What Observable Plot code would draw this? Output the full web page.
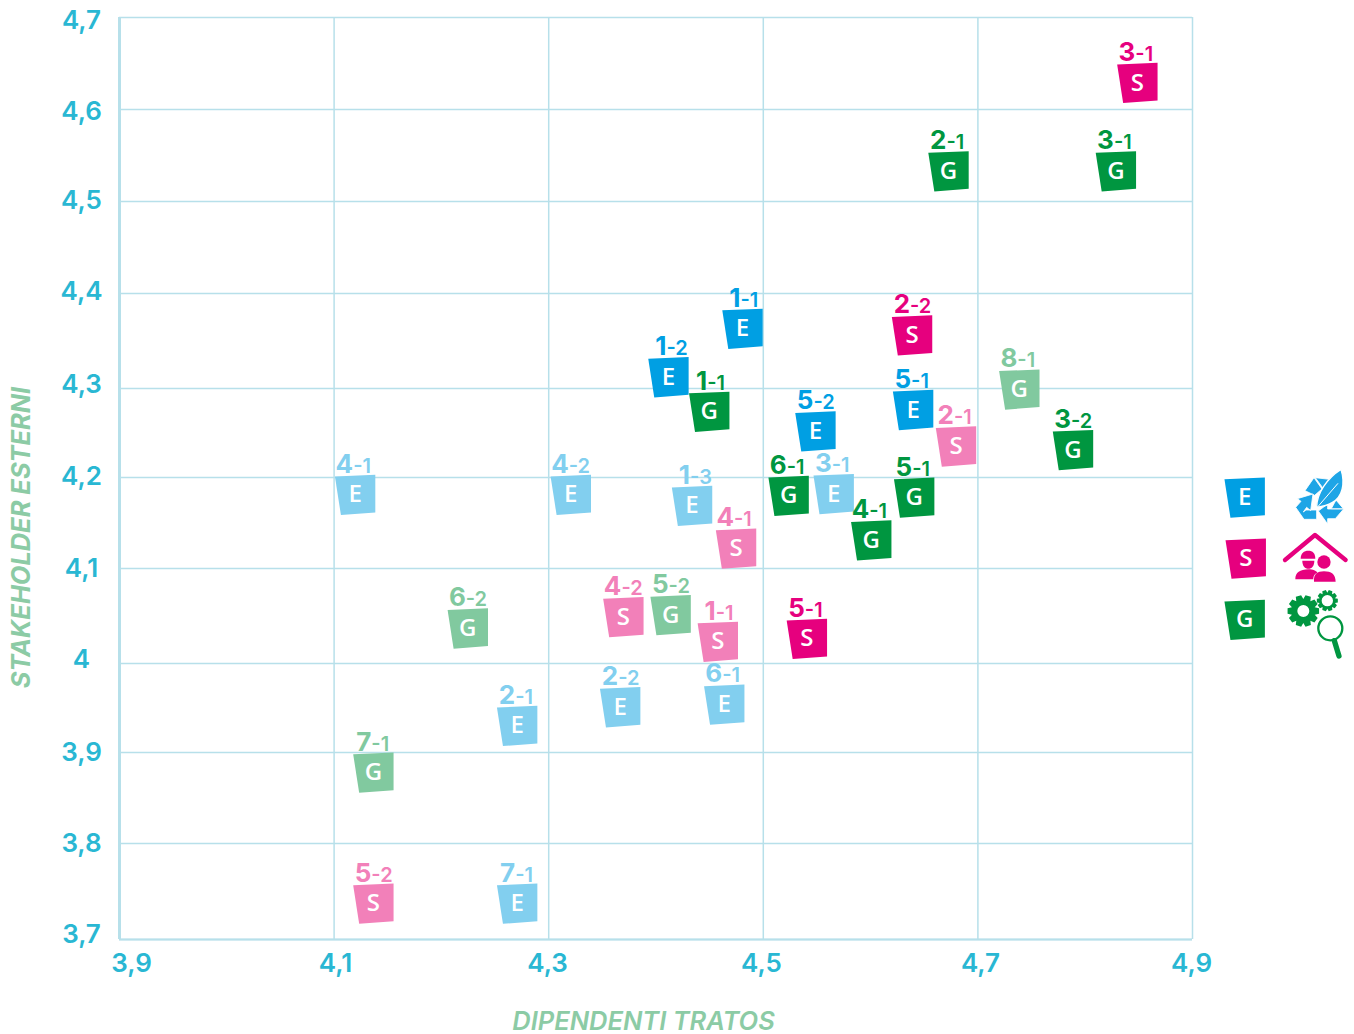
<!DOCTYPE html>
<html><head><meta charset="utf-8">
<script src="https://cdn.jsdelivr.net/npm/d3@7"></script>
<script src="https://cdn.jsdelivr.net/npm/@observablehq/plot@0.6"></script>
<style>html,body{margin:0;padding:0;background:#fff}svg{display:block}</style>
</head><body><div id="chart"></div>
<script>
// label, dipendenti Tratos (x), stakeholder esterni (y)
const ambienteForte = [["1-1",4.482,4.363],["1-2",4.413,4.312],["5-1",4.641,4.276],["5-2",4.550,4.252]];
const socialeForte = [["3-1",4.850,4.629],["2-2",4.640,4.356],["5-1",4.542,4.026]];
const governanceForte = [["2-1",4.674,4.533],["3-1",4.830,4.533],["1-1",4.451,4.274],["3-2",4.790,4.231],["6-1",4.525,4.180],["5-1",4.642,4.178],["4-1",4.602,4.131]];
const ambienteTenue = [["4-1",4.121,4.181],["4-2",4.322,4.181],["1-3",4.435,4.169],["3-1",4.567,4.182],["2-2",4.368,3.951],["6-1",4.465,3.954],["2-1",4.272,3.930],["7-1",4.272,3.7375]];
const socialeTenue = [["2-1",4.681,4.235],["4-1",4.476,4.122],["4-2",4.371,4.049],["1-1",4.459,4.023],["5-2",4.138,3.7375]];
const governanceTenue = [["8-1",4.740,4.299],["5-2",4.415,4.051],["6-2",4.226,4.037],["7-1",4.138,3.878]];
const legendKeys = [["E","ambienteForte",4.950,4.178],["S","socialeForte",4.951,4.111],["G","governanceForte",4.950,4.046]];

const seriesNames = ["ambienteForte","socialeForte","governanceForte","ambienteTenue","socialeTenue","governanceTenue"];
const seriesColors = ["#009fe3","#e6007e","#009640","#82cfef","#f280b9","#81c99f"];
const seriesLetters = ["E","S","G","E","S","G"];
const seriesData = [ambienteForte,socialeForte,governanceForte,ambienteTenue,socialeTenue,governanceTenue];
const xTicks = [3.9,4.1,4.3,4.5,4.7,4.9];
const yTicks = [3.7,3.8,3.9,4,4.1,4.2,4.3,4.4,4.5,4.6,4.7];
const yGridPixels = [939,843,752,663,568,477,388,293,201,109,17];
const xLabelPixels = [131,335,547,761,980,1191];
const yLabelPixels = [934,843,752,659,568,476,384,291,200,111,20];

const points = seriesData.flatMap((rows,i)=>rows.map(([label,x,y])=>({
  major:label.slice(0,1), minor:label.slice(1), x, y, series:seriesNames[i], letter:seriesLetters[i]
})));
const comma = d => String(d).replace(".",",");
const tag = {draw(c,size){const s=Math.sqrt(size/Math.PI)/20;
  c.moveTo(-20.2*s,-18.3*s);c.lineTo(20.2*s,-20*s);c.lineTo(20.2*s,17.7*s);c.lineTo(-14.2*s,20.3*s);c.closePath();}};
const yLabelPos = d3.scaleLinear(yTicks,yLabelPixels);
const xLabelPos = d3.scaleLinear(xTicks,xLabelPixels);

const FONT = "Inter, 'Open Sans', sans-serif";
const LETTER = "'Open Sans',sans-serif";
function gear(cx,cy,R,r,hole,n){
  const p=d3.path(),step=2*Math.PI/n;
  for(let i=0;i<n;i++){const a=i*step;
    [[r,-.5],[R,-.28],[R,.28],[r,.5]].forEach(([q,f],j)=>{
      const t=a+f*step,x=cx+q*Math.cos(t),y=cy+q*Math.sin(t);
      (i===0&&j===0)?p.moveTo(x,y):p.lineTo(x,y);});}
  p.closePath();p.moveTo(cx+hole,cy);p.arc(cx,cy,hole,0,2*Math.PI);p.closePath();
  return p.toString();
}
const icons = () => {
  const g = d3.create("svg:g").attr("transform","translate(1200,450) scale(0.3333)");
  g.html(`
  <g fill="#1ea5e6" stroke="#fff" stroke-width="2.5" stroke-linejoin="round">
    <path d="M315,122 L342,83 L366,117 L344,136 Z"/>
    <path d="M346,83 L388,88 L402,112 L376,122 L370,116 Z"/>
    <path d="M292,146 L339,132 L332,182 L320,172 L310,186 L318,180 L350,180 L350,208 L312,208 L287,172 L303,154 Z"/>
    <path d="M355,183 L383,162 L383,177 L431,177 L406,206 L383,206 L383,222 Z"/>
    <path d="M408,150 L430,176 L394,176 Z"/>
    <path d="M423,58 C436,100 428,142 396,158 C382,167 366,170 350,172 C350,130 382,84 423,58 Z" stroke-width="4"/>
  </g>
  <path d="M352,172 L414,100" stroke="#fff" stroke-width="3" fill="none"/>
  <g fill="#e6007e">
    <path d="M255,330 L345,255 L437,330" fill="none" stroke="#e6007e" stroke-width="13" stroke-linecap="round" stroke-linejoin="round"/>
    <path d="M302,326 C302,310 312,302 325,302 C338,302 346,310 346,326 Z"/>
    <path d="M307,332 H343 C343,348 335,356 325,356 C315,356 307,348 307,332 Z"/>
    <path d="M286,388 C286,366 300,360 325,358 C340,358 348,362 352,368 C342,372 340,380 340,388 Z"/>
    <circle cx="372" cy="336" r="20"/>
    <path d="M342,395 C340,372 352,364 372,364 C394,364 406,372 407,395 Z"/>
  </g>
  <g fill="#009640">
    <path fill-rule="evenodd" d="${gear(310,483,48,36,18,10)}"/>
    <path fill-rule="evenodd" d="${gear(382,452,32,24,17,10)}"/>
    <circle cx="391" cy="535" r="36" fill="#fff" stroke="#009640" stroke-width="7"/>
    <path d="M403,572 L417,618" stroke="#009640" stroke-width="16" stroke-linecap="round"/>
  </g>`);
  return g.node();
};

const gridColor = "#b7e0ea", tickColor = "#29b7d3", titleColor = "#8ccba5";
const chart = Plot.plot({
  width:1354, height:1034, marginLeft:119, marginRight:162, marginTop:17, marginBottom:95,
  style:{background:"transparent",overflow:"visible",fontFamily:FONT},
  x:{domain:[3.9,4.9],axis:null},
  y:{domain:yTicks,range:yGridPixels,type:"linear",axis:null},
  color:{domain:seriesNames,range:seriesColors},
  marks:[
    Plot.ruleX(xTicks,{stroke:gridColor,strokeWidth:1.5}),
    Plot.ruleY(yTicks,{stroke:gridColor,strokeWidth:1.5}),
    Plot.ruleX([3.9],{stroke:gridColor,strokeWidth:3}),
    Plot.ruleY([3.7],{stroke:gridColor,strokeWidth:2}),
    Plot.text(xTicks,{x:{value:d=>xLabelPos(d),scale:null},y:{value:()=>963,scale:null},text:comma,fill:tickColor,fontSize:26,fontWeight:600,fontFamily:FONT}),
    Plot.text(yTicks,{x:{value:()=>81,scale:null},y:{value:d=>yLabelPos(d),scale:null},text:comma,fill:tickColor,fontSize:26,fontWeight:600,fontFamily:FONT}),
    Plot.dot(points,{x:"x",y:"y",dx:-1.5,r:20,symbol:tag,fill:"series"}),
    Plot.text(points,{x:"x",y:"y",dx:-1.5,text:"letter",fill:"#fff",fontSize:24,fontWeight:600,fontFamily:LETTER}),
    Plot.text(points,{x:"x",y:"y",text:"major",dx:-3.5,dy:-22,textAnchor:"end",lineAnchor:"bottom",fill:d=>d.series,fontSize:26,fontWeight:700,fontFamily:FONT}),
    Plot.text(points,{x:"x",y:"y",text:"minor",dx:-3.5,dy:-22,textAnchor:"start",lineAnchor:"bottom",fill:d=>d.series,fontSize:20,fontWeight:600,fontFamily:FONT}),
    Plot.dot(legendKeys,{x:d=>d[2],y:d=>d[3],dx:-1.5,r:20,symbol:tag,fill:d=>d[1]}),
    Plot.text(legendKeys,{x:d=>d[2],y:d=>d[3],dx:-1.5,text:d=>d[0],fill:"#fff",fontSize:24,fontWeight:600,fontFamily:LETTER}),
    icons,
    Plot.text(["DIPENDENTI TRATOS"],{x:{value:()=>643,scale:null},y:{value:()=>1021,scale:null},text:d=>d,fill:titleColor,fontSize:25.5,fontStyle:"italic",fontWeight:600,fontFamily:FONT}),
    Plot.text(["STAKEHOLDER ESTERNI"],{x:{value:()=>21,scale:null},y:{value:()=>537,scale:null},text:d=>d,rotate:-90,fill:titleColor,fontSize:25.4,fontStyle:"italic",fontWeight:700,fontFamily:FONT})
  ]
});
document.getElementById("chart").append(chart);
</script></body></html>
